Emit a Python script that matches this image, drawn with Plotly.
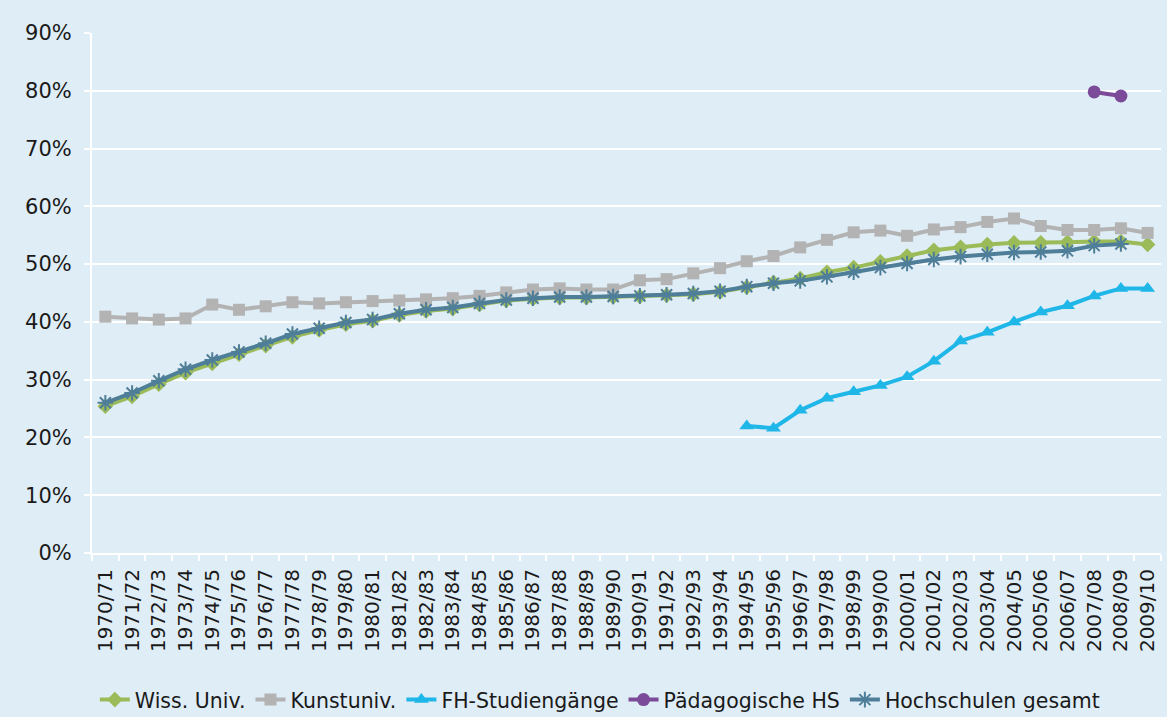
import plotly.graph_objects as go

years = [f"{y}/{str(y + 1)[-2:]}" for y in range(1970, 2010)]

wiss = [25.4, 27.1, 29.2, 31.2, 32.8, 34.4, 35.9, 37.4, 38.6, 39.6,
        40.2, 41.2, 41.9, 42.3, 43.0, 43.7, 44.0, 44.2, 44.2, 44.3,
        44.4, 44.6, 44.8, 45.2, 46.0, 46.8, 47.5, 48.6, 49.4, 50.4,
        51.4, 52.4, 52.9, 53.4, 53.7, 53.7, 53.8, 53.9, 53.9, 53.4]

kunst = [40.9, 40.6, 40.4, 40.6, 43.0, 42.1, 42.7, 43.4, 43.2, 43.4,
         43.6, 43.7, 43.9, 44.1, 44.5, 45.1, 45.6, 45.8, 45.6, 45.6,
         47.2, 47.4, 48.4, 49.3, 50.5, 51.4, 52.9, 54.2, 55.5, 55.8,
         54.9, 56.0, 56.4, 57.3, 57.9, 56.6, 55.9, 55.9, 56.2, 55.4]

fh = [None] * 24 + [22.0, 21.6, 24.7, 26.8, 27.9, 29.0, 30.5, 33.2,
                    36.7, 38.2, 40.0, 41.7, 42.8, 44.5, 45.8, 45.8]

paed = [None] * 37 + [79.8, 79.1, None]

gesamt = [26.0, 27.7, 29.8, 31.8, 33.4, 34.8, 36.3, 37.9, 38.9, 39.9,
          40.4, 41.4, 42.1, 42.5, 43.2, 43.8, 44.1, 44.3, 44.3, 44.4,
          44.5, 44.7, 44.9, 45.3, 46.1, 46.7, 47.1, 47.8, 48.6, 49.4,
          50.1, 50.8, 51.3, 51.7, 52.0, 52.1, 52.3, 53.2, 53.5, None]

BG = "#DFEDF6"
FONT = "DejaVu Sans, Liberation Sans, sans-serif"

fig = go.Figure()
fig.add_trace(go.Scatter(x=years, y=wiss, name="Wiss. Univ.", mode="lines+markers",
                         line=dict(color="#9BBB59", width=4),
                         marker=dict(symbol="diamond", size=12, color="#9BBB59")))
fig.add_trace(go.Scatter(x=years, y=kunst, name="Kunstuniv.", mode="lines+markers",
                         line=dict(color="#B3B3B3", width=4),
                         marker=dict(symbol="square", size=12, color="#B3B3B3")))
fig.add_trace(go.Scatter(x=years, y=fh, name="FH-Studiengänge", mode="lines+markers",
                         line=dict(color="#1FB6E8", width=4),
                         marker=dict(symbol="triangle-up", size=13, color="#1FB6E8")))
fig.add_trace(go.Scatter(x=years, y=paed, name="Pädagogische HS", mode="lines+markers",
                         line=dict(color="#7B4A98", width=4),
                         marker=dict(symbol="circle", size=13, color="#7B4A98")))
fig.add_trace(go.Scatter(x=years, y=gesamt, name="Hochschulen gesamt", mode="lines+markers",
                         line=dict(color="#4F7E99", width=4),
                         marker=dict(symbol="asterisk-open", size=13,
                                     line=dict(color="#4F7E99", width=2))))

fig.update_layout(
    width=1167, height=717,
    paper_bgcolor=BG, plot_bgcolor=BG,
    margin=dict(l=92, r=6, t=33, b=164, autoexpand=False),
    font=dict(family=FONT, size=20, color="#1A1A1A"),
    showlegend=True,
    legend=dict(orientation="h", xref="container", x=0.514, xanchor="center",
                yref="container", y=0.024, yanchor="middle",
                font=dict(family=FONT, size=20.5, color="#1A1A1A"),
                bgcolor="rgba(0,0,0,0)", itemwidth=30, tracegroupgap=0),
)
fig.update_xaxes(type="category", tickangle=-90, showgrid=False, automargin=False,
                 range=[-0.5, 39.5],
                 showline=True, linecolor="white", linewidth=2,
                 ticks="outside", tickcolor="white", ticklen=6, tickwidth=2,
                 tickson="boundaries", tickfont=dict(size=20), zeroline=False,
                 ticklabelstandoff=6)
fig.update_yaxes(range=[0, 90], dtick=10, ticksuffix="%", showgrid=True, automargin=False,
                 gridcolor="white", gridwidth=2, showline=True, linecolor="white",
                 linewidth=2, ticks="outside", tickcolor="white", ticklen=6,
                 tickwidth=2, zeroline=False, tickfont=dict(size=21),
                 ticklabelstandoff=8)

fig.write_html("out.html", config={"displayModeBar": False},
               post_script="document.body.style.margin='0';document.body.style.background='#DFEDF6';")
